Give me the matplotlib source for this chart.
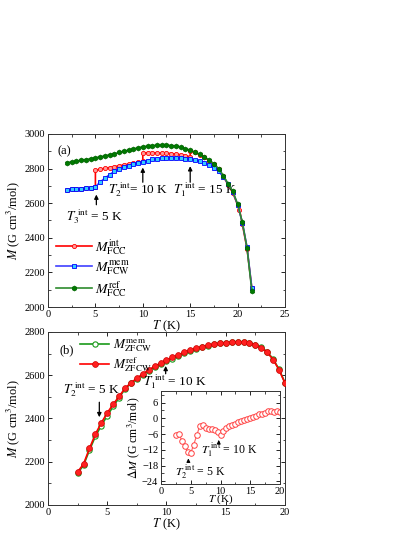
import numpy as np
import matplotlib
matplotlib.use('Agg')
import matplotlib.pyplot as plt
from matplotlib.ticker import MultipleLocator

plt.rcParams['font.family'] = ['Liberation Serif', 'DejaVu Serif']
plt.rcParams['mathtext.fontset'] = 'stix'
plt.rcParams['xtick.direction'] = 'in'
plt.rcParams['ytick.direction'] = 'in'

# ---- panel (a) data ----
T_a = [2, 2.5, 3, 3.5, 4, 4.5, 5, 5.5, 6, 6.5, 7, 7.5, 8, 8.5, 9, 9.5, 10, 10.5, 11, 11.5,
       12, 12.5, 13, 13.5, 14, 14.5, 15, 15.5, 16, 16.5, 17, 17.5, 18, 18.5, 19, 19.5,
       20, 20.5, 21, 21.5]
M_ref_fcc = [2835, 2838, 2842, 2848, 2852, 2857, 2862, 2868, 2873, 2880, 2886, 2893, 2900,
             2906, 2913, 2920, 2926, 2930, 2933, 2935, 2935, 2935, 2933, 2930, 2925, 2915,
             2905, 2895, 2883, 2868, 2850, 2828, 2800, 2760, 2712, 2668, 2595, 2490, 2340, 2095]
M_mem_fcw = [2678, 2680, 2682, 2684, 2687, 2690, 2695, 2722, 2745, 2765, 2785, 2798, 2808,
             2816, 2824, 2832, 2838, 2846, 2853, 2858, 2862, 2864, 2864, 2863, 2861, 2858,
             2854, 2849, 2842, 2833, 2821, 2804, 2784, 2752, 2712, 2665, 2592, 2488, 2345, 2110]
# M_int has steps at 5, 10 and 15 K (two values at each step temperature)
T_int = [2, 2.5, 3, 3.5, 4, 4.5, 5, 5, 5.5, 6, 6.5, 7, 7.5, 8, 8.5, 9, 9.5, 10, 10, 10.5,
         11, 11.5, 12, 12.5, 13, 13.5, 14, 14.5, 15, 15, 15.5, 16, 16.5, 17, 17.5, 18, 18.5,
         19, 19.5, 20, 20.2, 20.5, 21, 21.5]
M_int_fcc = [2678, 2680, 2682, 2684, 2687, 2690, 2695, 2790, 2797, 2802, 2806, 2811, 2816,
             2821, 2826, 2831, 2836, 2842, 2890, 2892, 2892, 2891, 2890, 2889, 2887, 2884,
             2880, 2875, 2868, 2903, 2893, 2880, 2865, 2846, 2824, 2795, 2755, 2706, 2660,
             2590, 2562, 2480, 2335, 2110]

# ---- panel (b) data ----
T_b = [2.5, 3, 3.5, 4, 4.5, 5, 5.5, 6, 6.5, 7, 7.5, 8, 8.5, 9, 9.5, 10, 10.5, 11, 11.5, 12,
       12.5, 13, 13.5, 14, 14.5, 15, 15.5, 16, 16.5, 17, 17.5, 18, 18.5, 19, 19.5, 20]
M_ref_zfcw = [2153, 2190, 2262, 2328, 2380, 2426, 2466, 2502, 2540, 2565, 2586, 2606, 2625,
              2641, 2656, 2670, 2682, 2694, 2706, 2716, 2724, 2732, 2738, 2743, 2747, 2751,
              2753, 2754, 2752, 2748, 2740, 2726, 2706, 2672, 2625, 2563]
dM = [-6.3, -5.8, -8.5, -10.5, -12.8, -13.2, -10.0, -6.5, -3.0, -2.6, -3.5, -4.0, -4.2,
      -4.4, -5.4, -6.2, -4.8, -3.8, -3.0, -2.5, -2.0, -1.5, -1.0, -0.6, -0.2, 0.0, 0.5,
      1.0, 1.6, 1.8, 2.0, 2.7, 2.8, 2.5, 2.6, 2.4]
M_mem_zfcw = list(np.array(M_ref_zfcw) + np.array(dM))

fig = plt.figure(figsize=(4.15, 5.37), dpi=100)
ax1 = fig.add_axes([0.1157, 0.4283, 0.571, 0.3222])
ax2 = fig.add_axes([0.1157, 0.0596, 0.571, 0.3222])
ax3 = fig.add_axes([0.388, 0.0987, 0.2867, 0.1737])

fs_tick = 7.5
fs_ann = 9.5

# panel (a)
ax1.plot(T_int, M_int_fcc, '-', color='red', lw=1.2, marker='o', ms=3,
         mfc='#ff9999', mec='red', mew=0.6, label=r'$M^{\rm int}_{\rm FCC}$', zorder=2)
ax1.plot(T_a, M_mem_fcw, '-', color='#4040ff', lw=1.2, marker='s', ms=3.2,
         mfc='#33ccff', mec='#0000ff', mew=0.6, label=r'$M^{\rm mem}_{\rm FCW}$', zorder=3)
ax1.plot(T_a, M_ref_fcc, '-', color='#2e8b2e', lw=1.2, marker='h', ms=3.6,
         mfc='#007a00', mec='#006400', mew=0.5, label=r'$M^{\rm ref}_{\rm FCC}$', zorder=4)
ax1.set_xlim(0, 25)
ax1.set_ylim(2000, 3000)
ax1.xaxis.set_major_locator(MultipleLocator(5))
ax1.xaxis.set_minor_locator(MultipleLocator(2.5))
ax1.yaxis.set_major_locator(MultipleLocator(200))
ax1.yaxis.set_minor_locator(MultipleLocator(100))
ax1.set_xlabel(r'$T$ (K)', fontsize=9, labelpad=0)
ax1.set_ylabel(r'$M$ (G cm$^3$/mol)', fontsize=9, labelpad=2)
ax1.text(1.0, 2898, '(a)', fontsize=9, va='center')
ax1.legend(loc='lower left', bbox_to_anchor=(0.0, 0.0), frameon=False, fontsize=10,
           handlelength=2.6, labelspacing=0.15, handletextpad=0.2, borderaxespad=0.2)

arr = dict(arrowstyle='-|>', color='black', lw=0.9, mutation_scale=6)
ax1.annotate('', xy=(5.1, 2666), xytext=(5.1, 2575), arrowprops=arr)
ax1.text(4.9, 2522, r'$T_3^{\ \rm int}$ = 5 K', fontsize=fs_ann, ha='center', va='center')
ax1.annotate('', xy=(10.0, 2822), xytext=(10.0, 2705), arrowprops=arr)
ax1.text(6.3, 2676, r'$T_2^{\ \rm int}$= 10 K', fontsize=fs_ann, ha='left', va='center')
ax1.annotate('', xy=(15.0, 2830), xytext=(15.0, 2705), arrowprops=arr)
ax1.text(13.2, 2676, r'$T_1^{\ \rm int}$ = 15 K', fontsize=fs_ann, ha='left', va='center')

# panel (b)
ax2.plot(T_b, M_mem_zfcw, '-', color='#1a9a1a', lw=1.2, marker='o', ms=3.8,
         mfc='white', mec='#1a9a1a', mew=0.8, label=r'$M^{\rm mem}_{\rm ZFCW}$', zorder=2)
ax2.plot(T_b, M_ref_zfcw, '-', color='red', lw=1.2, marker='o', ms=4.2,
         mfc='#ff2020', mec='#cc0000', mew=0.5, label=r'$M^{\rm ref}_{\rm ZFCW}$', zorder=3)
ax2.set_xlim(0, 20)
ax2.set_ylim(2000, 2800)
ax2.xaxis.set_major_locator(MultipleLocator(5))
ax2.xaxis.set_minor_locator(MultipleLocator(2.5))
ax2.yaxis.set_major_locator(MultipleLocator(200))
ax2.yaxis.set_minor_locator(MultipleLocator(100))
ax2.set_xlabel(r'$T$ (K)', fontsize=9, labelpad=0)
ax2.set_ylabel(r'$M$ (G cm$^3$/mol)', fontsize=9, labelpad=2)
ax2.text(1.0, 2717, '(b)', fontsize=9, va='center')
ax2.legend(loc='upper left', bbox_to_anchor=(0.085, 1.035), frameon=False, fontsize=9.5,
           handlelength=2.2, labelspacing=0.05, handletextpad=0.3)

ax2.annotate('', xy=(4.33, 2393), xytext=(4.33, 2488), arrowprops=arr)
ax2.text(1.3, 2532, r'$T_2^{\ \rm int}$ = 5 K', fontsize=fs_ann, ha='left', va='center')
ax2.annotate('', xy=(9.93, 2656), xytext=(9.93, 2594), arrowprops=arr)
ax2.text(8.0, 2571, r'$T_1^{\ \rm int}$ = 10 K', fontsize=fs_ann, ha='left', va='center')

# inset
ax3.plot(T_b, dM, '-', color='#ff6060', lw=0.8, marker='o', ms=4,
         mfc='white', mec='#ff4040', mew=0.7)
ax3.set_xlim(0, 20)
ax3.set_ylim(-25, 10.5)
ax3.xaxis.set_major_locator(MultipleLocator(5))
ax3.xaxis.set_minor_locator(MultipleLocator(2.5))
ax3.yaxis.set_major_locator(MultipleLocator(6))
ax3.yaxis.set_minor_locator(MultipleLocator(3))
ax3.set_xlabel(r'$T$ (K)', fontsize=8, labelpad=-2.5)
ax3.set_ylabel(r'$\Delta M$ (G cm$^3$/mol)', fontsize=8.5, labelpad=0)
arr2 = dict(arrowstyle='-|>', color='black', lw=0.8, mutation_scale=5)
ax3.annotate('', xy=(4.6, -14.2), xytext=(4.6, -17.7), arrowprops=arr2)
ax3.text(2.3, -20.3, r'$T_2^{\ \rm int}$ = 5 K', fontsize=8.5, ha='left', va='center')
ax3.annotate('', xy=(9.7, -7.2), xytext=(9.7, -10.2), arrowprops=arr2)
ax3.text(6.8, -12.2, r'$T_1^{\ \rm int}$ = 10 K', fontsize=8.5, ha='left', va='center')

for ax in (ax1, ax2, ax3):
    ax.tick_params(which='both', top=True, right=True, labelsize=fs_tick, pad=2)
    ax.tick_params(which='major', length=3, width=0.6)
    ax.tick_params(which='minor', length=1.8, width=0.5)
    for s in ax.spines.values():
        s.set_linewidth(0.7)
        s.set_color('#333333')

fig.savefig('out.png', dpi=100, facecolor='white')
